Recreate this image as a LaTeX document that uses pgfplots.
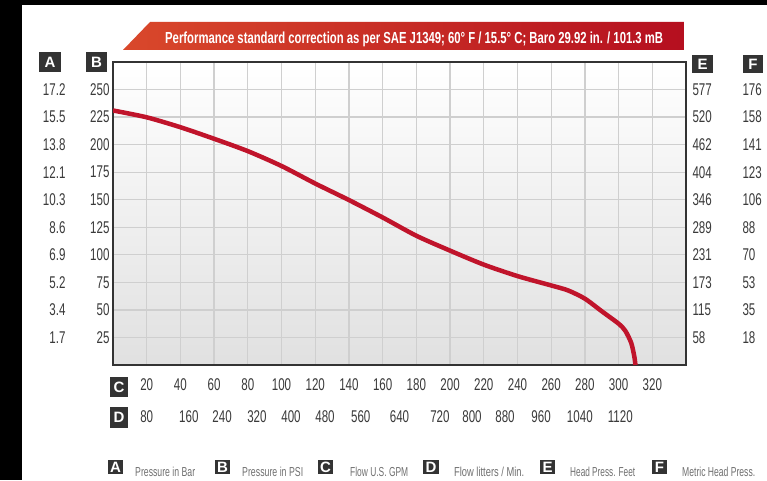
\documentclass[border=0pt]{standalone}
\usepackage{graphicx}
\usepackage{fontspec}
\usepackage{pgfplots}
\pgfplotsset{compat=1.18}
\setmainfont{Liberation Sans}
\newfontfamily\narrow{Liberation Sans}[FakeStretch=0.68]

\definecolor{tickgray}{HTML}{3A3A3A}
\definecolor{framec}{HTML}{333333}
\definecolor{gridc}{HTML}{CFCFCF}
\definecolor{curvec}{HTML}{C0142B}
\definecolor{bannerL}{HTML}{D9482B}
\definecolor{bannerR}{HTML}{B50F1F}
\definecolor{boxc}{HTML}{333333}
\definecolor{legtext}{HTML}{707070}

% letter box: left x, top y (pixels from top), width, height, letter
\newcommand{\letterbox}[5]{%
  \fill[boxc] (#1,{480-#2}) rectangle ({#1+#3},{480-#2-#4});
  \node[text=white, inner sep=0, font=\bfseries\fontsize{15}{15}\selectfont]
    at ({#1+#3/2},{480-#2-#4/2}) {#5};}
% legend text: left x, width, text
\newcommand{\legtext}[3]{%
  \node[anchor=base west, inner sep=0, text=legtext]
    at (#1,4) {\resizebox{#2pt}{\height}{\narrow\fontsize{13}{13}\selectfont #3}};}

\begin{document}
\begin{tikzpicture}[x=1pt,y=1pt]
\fill[black] (0,0) rectangle (767,480);
\fill[white] (22,0) rectangle (767,475);

% banner
\shade[left color=bannerL, right color=bannerR]
  (123,430) -- (150,458) -- (684,458) -- (684,430) -- cycle;
\node[anchor=base west, inner sep=0, text=white] at (165,436.5)
  {\resizebox{498pt}{\height}{\bfseries\fontsize{16}{16}\selectfont
   Performance standard correction as per SAE J1349; 60° F / 15.5° C; Baro 29.92 in. / 101.3 mB}};

\begin{axis}[
  at={(113pt,115pt)}, anchor=south west,
  width=573pt, height=303pt, scale only axis,
  xmin=0, xmax=340, ymin=0, ymax=275,
  xtick={20,40,...,320},
  xticklabels={20,40,60,80,100,120,140,160,180,200,220,240,260,280,300,320},
  ytick={25,50,...,250},
  yticklabels={25,50,75,100,125,150,175,200,225,250},
  extra x ticks={20,45,64.7,85.4,105.6,125.8,147,170,194,213,232.6,254,277,301},
  extra x tick labels={80,160,240,320,400,480,560,640,720,800,880,960,1040,1120},
  extra x tick style={grid=none, xticklabel style={yshift=-32pt}},
  extra y ticks={25,50,...,250},
  extra y tick labels={1.7,3.4,5.2,6.9,8.6,10.3,12.1,13.8,15.5,17.2},
  extra y tick style={grid=none, yticklabel style={xshift=-44pt}},
  xticklabel style={yshift=-10pt},
  grid=major, grid style={gridc, line width=1.3pt},
  major tick length=0,
  axis line style={framec, line width=2.6pt},
  tick label style={font=\narrow\fontsize{17}{17}\selectfont, text=tickgray},
  axis background/.style={shade, top color=white, bottom color=black!12},
]
\addplot[curvec, line width=4.5pt, smooth, tension=0.45] coordinates {
  (0,231) (20,224.8) (40,215.8) (60,205.3) (80,194.1) (100,180.6)
  (120,164.7) (140,149.7) (160,133.9) (180,117.3) (200,103.8) (220,91.1)
  (240,80.7) (260,72.2) (270,67.7) (280,60.2) (290,48.8) (300,37.5)
  (304,31) (307.5,20) (309.3,8) (310,0)};
\end{axis}

% right-hand scales E and F
\begin{axis}[
  at={(113pt,115pt)}, anchor=south west,
  width=573pt, height=303pt, scale only axis,
  xmin=0, xmax=340, ymin=0, ymax=275,
  hide x axis, axis y line*=right,
  y axis line style={draw=none},
  ytick={25,50,...,250},
  yticklabels={58,115,173,231,289,346,404,462,520,577},
  yticklabel style={xshift=3pt},
  extra y ticks={25,50,...,250},
  extra y tick labels={18,35,53,70,88,106,123,141,158,176},
  extra y tick style={yticklabel style={xshift=50pt}},
  major tick length=0,
  tick label style={font=\narrow\fontsize{17}{17}\selectfont, text=tickgray},
]
\end{axis}

% scale letters
\letterbox{39}{52}{22}{20}{A}
\letterbox{86}{52}{21}{20}{B}
\letterbox{692}{55}{21}{18}{E}
\letterbox{743}{55}{20}{18}{F}
\letterbox{110}{377}{18}{20}{C}
\letterbox{110}{407}{18}{21}{D}

% key
\letterbox{108}{460}{15}{14}{A}
\legtext{135}{60}{Pressure in Bar}
\letterbox{215}{460}{15}{14}{B}
\legtext{242}{61}{Pressure in PSI}
\letterbox{318}{460}{15}{14}{C}
\legtext{350}{58}{Flow U.S. GPM}
\letterbox{423}{460}{16}{14}{D}
\legtext{454}{70}{Flow litters / Min.}
\letterbox{540}{460}{15}{14}{E}
\legtext{570}{65}{Head Press. Feet}
\letterbox{652}{460}{15}{14}{F}
\legtext{682}{73}{Metric Head Press.}
\end{tikzpicture}
\end{document}
